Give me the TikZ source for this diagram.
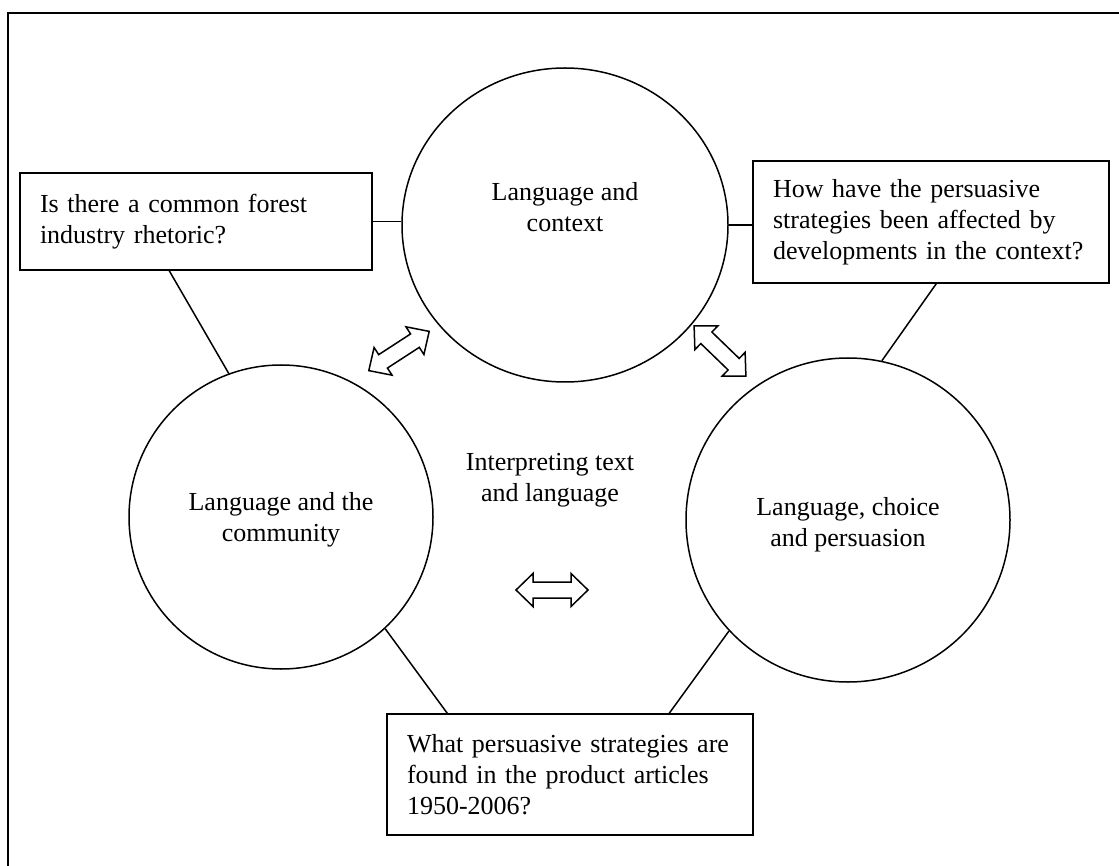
\documentclass[tikz,border=0pt]{standalone}
\usepackage{fontspec}
\setmainfont{Liberation Serif}
\usetikzlibrary{shapes.geometric,calc}

\tikzset{
  stroke/.style={draw=black, line width=1.5pt},
  ring/.style={stroke, ellipse, inner sep=0pt},
  qbox/.style={stroke, rectangle, align=left, inner xsep=20pt, inner ysep=0pt,
               font=\fontsize{26}{31}\selectfont},
  caption/.style={align=center, inner sep=0pt, font=\fontsize{26}{31}\selectfont},
  link/.style={draw=black, line width=1.5pt},
  hollow/.style={draw=black, line width=1.5pt, fill=white, line join=miter},
}

% hollow two-headed arrow, centred on the origin and pointing along x
\newcommand{\twoheaded}[3]{%
  \begin{scope}[shift={(#1,#2)}, rotate=#3]
    \draw[hollow] (-36,0) -- (-19,16.5) -- (-19,8) -- (19,8) -- (19,16.5) -- (36,0)
      -- (19,-16.5) -- (19,-8) -- (-19,-8) -- (-19,-16.5) -- cycle;
  \end{scope}}

\begin{document}
\begin{tikzpicture}[x=1pt, y=-1pt]
  \useasboundingbox (0,0) rectangle (1119,866);

  % outer frame
  \draw[line width=2.2pt] (8,13) rectangle (1140,890);

  % three themes
  \node[ring, minimum width=326pt, minimum height=314pt] (top) at (565,225) {};
  \node[ring, minimum width=304pt, minimum height=304pt] (lc)  at (281,517) {};
  \node[ring, minimum width=324pt, minimum height=324pt] (rc)  at (848,520) {};

  \node[caption] (toptxt) at (565,207) {Language and\\context};
  \node[caption] (lctxt)  at (281,520) {Language and the\\community};
  \node[caption] (rctxt)  at (848,525) {Language, choice\\and persuasion};
  \node[caption] (mid)    at (550,480) {Interpreting text\\and language};

  % research questions
  \node[qbox, text width=312pt, minimum height=97pt] (lbox) at (196,221.5)
    {Is there a common forest\\industry rhetoric?};
  \node[qbox, text width=316pt, minimum height=122pt] (rbox) at (931,222)
    {How have the persuasive\\strategies been affected by\\developments in the context?};
  \node[qbox, text width=326pt, minimum height=121pt] (bbox) at (570,774.5)
    {What persuasive strategies are\\found in the product articles\\1950-2006?};

  % connectors
  \draw[link] (lbox.east) -- (lbox.east -| top.west);
  \draw[link] (top.east) -- (top.east -| rbox.west);
  \draw[link] ($(lbox.south west)+(150,0)$) -- (lc.110);
  \draw[link] ($(rbox.south west)+(184,0)$) -- (rc.78);
  \draw[link] (lc.-47) -- ($(bbox.north west)+(61,0)$);
  \draw[link] (rc.-137) -- ($(bbox.north west)+(283,0)$);

  % interplay arrows
  \twoheaded{399}{351}{33}
  \twoheaded{720}{351}{-44}
  \twoheaded{552}{590}{0}
\end{tikzpicture}
\end{document}
